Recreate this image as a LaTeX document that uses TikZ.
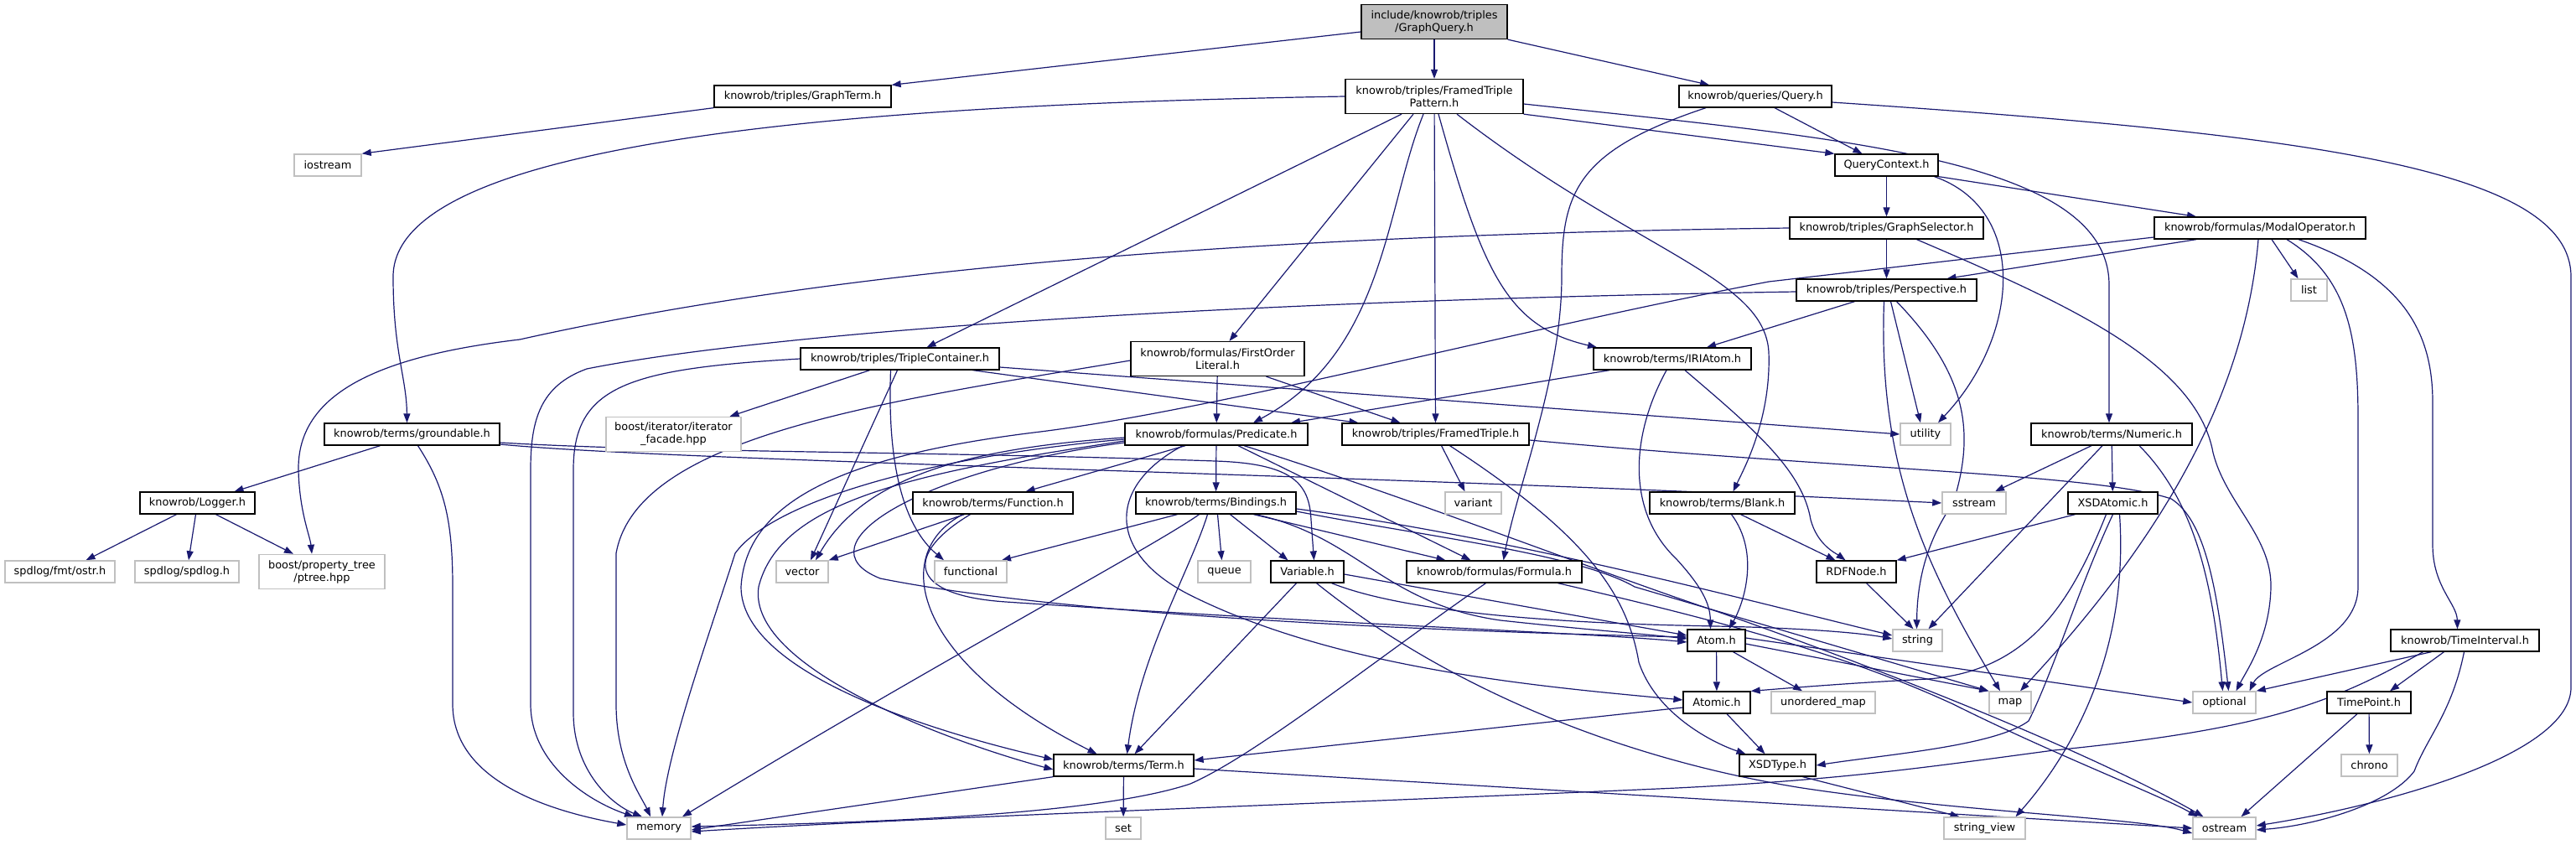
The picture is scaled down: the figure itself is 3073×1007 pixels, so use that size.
\documentclass[tikz,border=0pt]{standalone}
\usepackage{fontspec}
\setmainfont{DejaVu Sans}
\usetikzlibrary{arrows.meta}
\definecolor{edgec}{HTML}{191970}
\definecolor{grayb}{HTML}{C0C0C0}
\definecolor{rootf}{HTML}{BFBFBF}
\pgfdeclarelayer{bg}
\pgfsetlayers{bg,main}
\tikzset{
 nbase/.style={inner sep=2pt, font=\fontsize{12.9pt}{15pt}\selectfont, align=center, minimum height=26pt, fill=white},
 nb/.style={nbase, draw=black, line width=1.3pt},
 ng/.style={nbase, draw=grayb, line width=1.5pt},
 nroot/.style={nbase, draw=black, line width=1.3pt, fill=rootf},
 two/.style={minimum height=41pt},
 edg/.style={draw=edgec, line width=1.2pt, -{Triangle[length=11pt,width=8pt]}},
}
\begin{document}
\begin{tikzpicture}[x=1pt,y=-1pt]
\useasboundingbox (0,0) rectangle (3073,1007);
% nodes
\node[nroot, two, minimum width=174pt] (root) at (1711,26) {include/knowrob/triples\\/GraphQuery.h};
\node[nb, minimum width=211pt] (gterm) at (957.5,115) {knowrob/triples/GraphTerm.h};
\node[nb, two, minimum width=212pt] (ftp) at (1711,115) {knowrob/triples/FramedTriple\\Pattern.h};
\node[nb, minimum width=182pt] (query) at (2094,115) {knowrob/queries/Query.h};
\node[ng, minimum width=80pt] (iostream) at (391,197) {iostream};
\node[nb, minimum width=123pt] (qctx) at (2250.5,197) {QueryContext.h};
\node[nb, minimum width=231pt] (gsel) at (2250.5,272) {knowrob/triples/GraphSelector.h};
\node[nb, minimum width=252pt] (modal) at (2696,272) {knowrob/formulas/ModalOperator.h};
\node[nb, minimum width=215pt] (persp) at (2250.5,346) {knowrob/triples/Perspective.h};
\node[ng, minimum width=43pt] (list) at (2754.5,346) {list};
\node[nb, minimum width=237pt] (tc) at (1073.5,428) {knowrob/triples/TripleContainer.h};
\node[nb, two, minimum width=207pt] (fol) at (1452.5,428) {knowrob/formulas/FirstOrder\\Literal.h};
\node[nb, minimum width=188pt] (iri) at (1995,428) {knowrob/terms/IRIAtom.h};
\node[nb, minimum width=209pt] (ground) at (491.5,518) {knowrob/terms/groundable.h};
\node[ng, two, minimum width=161pt] (iterf) at (803.5,518) {boost/iterator/iterator\\\_facade.hpp};
\node[nb, minimum width=218pt] (pred) at (1451,518) {knowrob/formulas/Predicate.h};
\node[nb, minimum width=223pt] (ftriple) at (1712.5,518) {knowrob/triples/FramedTriple.h};
\node[ng, minimum width=60pt] (utility) at (2297,518) {utility};
\node[nb, minimum width=192pt] (numeric) at (2519,518) {knowrob/terms/Numeric.h};
\node[nb, minimum width=137pt] (logger) at (235.5,600) {knowrob/Logger.h};
\node[nb, minimum width=191pt] (function) at (1184.5,600) {knowrob/terms/Function.h};
\node[nb, minimum width=191pt] (bindings) at (1450.5,600) {knowrob/terms/Bindings.h};
\node[ng, minimum width=67pt] (variant) at (1757.5,600) {variant};
\node[nb, minimum width=173pt] (blank) at (2054.5,600) {knowrob/terms/Blank.h};
\node[ng, minimum width=76pt] (sstream) at (2355,600) {sstream};
\node[nb, minimum width=107pt] (xsdatomic) at (2520.5,600) {XSDAtomic.h};
\node[ng, minimum width=131pt] (fmtostr) at (71.5,682) {spdlog/fmt/ostr.h};
\node[ng, minimum width=124pt] (spdlog) at (223,682) {spdlog/spdlog.h};
\node[ng, two, minimum width=150pt] (ptree) at (384,682) {boost/property\_tree\\/ptree.hpp};
\node[ng, minimum width=62pt] (vector) at (957,682) {vector};
\node[ng, minimum width=86pt] (functional) at (1158,682) {functional};
\node[ng, minimum width=63pt] (queue) at (1460.5,682) {queue};
\node[nb, minimum width=87pt] (variable) at (1559.5,682) {Variable.h};
\node[nb, minimum width=209pt] (formula) at (1782.5,682) {knowrob/formulas/Formula.h};
\node[nb, minimum width=95pt] (rdfnode) at (2214.5,682) {RDFNode.h};
\node[nb, minimum width=69pt] (atom) at (2047.5,764) {Atom.h};
\node[ng, minimum width=59pt] (string) at (2287.5,764) {string};
\node[nb, minimum width=177pt] (timeint) at (2940.5,764) {knowrob/TimeInterval.h};
\node[nb, minimum width=80pt] (atomic) at (2048,838) {Atomic.h};
\node[ng, minimum width=124pt] (umap) at (2175,838) {unordered\_map};
\node[ng, minimum width=50pt] (map) at (2398,838) {map};
\node[ng, minimum width=75pt] (optional) at (2653.5,838) {optional};
\node[nb, minimum width=100pt] (timepoint) at (2826,838) {TimePoint.h};
\node[nb, minimum width=167pt] (term) at (1340.5,913) {knowrob/terms/Term.h};
\node[nb, minimum width=91pt] (xsdtype) at (2120.5,913) {XSDType.h};
\node[ng, minimum width=67pt] (chrono) at (2826.5,913) {chrono};
\node[ng, minimum width=76pt] (memory) at (786,988) {memory};
\node[ng, minimum width=42pt] (set) at (1340,988) {set};
\node[ng, minimum width=97pt] (stringview) at (2367.5,988) {string\_view};
\node[ng, minimum width=75pt] (ostream) at (2653.5,988) {ostream};
% edges
\begin{pgfonlayer}{bg}
% root
\draw[edg] ([yshift=-12pt]root.west) -- (gterm.north east);
\draw[edg] (root) -- (ftp);
\draw[edg] (root.south east) -- ([xshift=-55pt]query.north);
\draw[edg] (gterm.south west) -- (iostream.north east);
% FramedTriplePattern
\draw[edg] (ftp.west) .. controls (1000,125) and (469,170) .. (469,330) .. controls (469,420) and (485,450) .. ([xshift=-6pt]ground.north);
\draw[edg] ([xshift=-39pt]ftp.south) -- ([xshift=32pt]tc.north);
\draw[edg] ([xshift=-25pt]ftp.south) -- ([xshift=14pt]fol.north);
\draw[edg] ([xshift=-13pt]ftp.south) .. controls (1652,250) and (1652,420) .. ([xshift=44pt]pred.north);
\draw[edg] (ftp) -- (ftriple);
\draw[edg] ([xshift=5pt]ftp.south) .. controls (1770,330) and (1800,390) .. ([xshift=-90pt]iri.north);
\draw[edg] ([xshift=27pt]ftp.south) .. controls (1950,300) and (2105,330) .. (2110,420) .. controls (2113,500) and (2080,560) .. ([xshift=13pt]blank.north);
\draw[edg] (ftp.south east) -- (qctx.north west);
\draw[edg] ([yshift=-9pt]ftp.east) .. controls (2200,165) and (2516,190) .. (2516,340) -- ([xshift=-3pt]numeric.north);
% Query
\draw[edg] ([xshift=23pt]query.south) -- ([xshift=-29pt]qctx.north);
\draw[edg] ([xshift=-59pt]query.south) .. controls (1880,180) and (1863,230) .. (1863,330) .. controls (1863,450) and (1810,580) .. ([xshift=11pt]formula.north);
\draw[edg] ([yshift=-7pt]query.east) .. controls (2750,160) and (3067,200) .. (3067,330) -- (3067,820) .. controls (3067,900) and (2850,960) .. ([yshift=3pt]ostream.east);
% QueryContext
\draw[edg] (qctx) -- (gsel);
\draw[edg] (qctx.south east) -- ([xshift=-76pt]modal.north);
\draw[edg] ([xshift=57pt]qctx.south) .. controls (2420,250) and (2410,400) .. ([xshift=15pt]utility.north);
% GraphSelector
\draw[edg] (gsel) -- (persp);
\draw[edg] ([xshift=36pt]gsel.south) .. controls (2460,360) and (2620,430) .. (2640,540) .. controls (2655,600) and (2710,640) .. (2709,700) .. controls (2708,760) and (2680,800) .. ([xshift=14pt]optional.north);
\draw[edg] (gsel.west) .. controls (1500,280) and (1000,320) .. (620,405) .. controls (450,425) and (355,470) .. (356,560) .. controls (357,610) and (370,640) .. ([xshift=-12pt]ptree.north);
% ModalOperator
\draw[edg] ([xshift=-76pt]modal.south) -- ([xshift=72pt]persp.north);
\draw[edg] ([xshift=14pt]modal.south) -- ([xshift=-13pt]list.north);
\draw[edg] ([xshift=32pt]modal.south) .. controls (2800,330) and (2813,400) .. (2813,500) -- (2813,700) .. controls (2813,770) and (2700,790) .. ([xshift=30pt]optional.north);
\draw[edg] ([xshift=-2pt]modal.south) .. controls (2680,450) and (2600,620) .. ([xshift=12pt]map.north);
\draw[edg] ([xshift=46pt]modal.south) .. controls (2870,330) and (2902,400) .. (2902,480) -- (2902,650) .. controls (2902,700) and (2931,720) .. ([xshift=-9pt]timeint.north);
\draw[edg] ([yshift=-11pt]modal.west) -- (2110,336) .. controls (1800,395) and (1450,490) .. (1233,516) .. controls (1000,545) and (890,600) .. (884,700) .. controls (884,800) and (1100,870) .. ([yshift=7pt]term.west);
% Perspective
\draw[edg] ([xshift=-38pt]persp.south) -- ([xshift=41pt]iri.north);
\draw[edg] ([xshift=5pt]persp.south) -- ([xshift=-6pt]utility.north);
\draw[edg] ([xshift=12pt]persp.south) .. controls (2350,450) and (2355,520) .. (2330,600) .. controls (2295,650) and (2287,700) .. ([xshift=-1pt]string.north);
\draw[edg] ([xshift=-3pt]persp.south) .. controls (2240,560) and (2300,680) .. ([xshift=-12pt]map.north);
\draw[edg] ([yshift=-2pt]persp.west) .. controls (1400,360) and (900,400) .. (700,440) .. controls (645,460) and (633,500) .. (633,560) -- (633,840) .. controls (633,910) and (700,955) .. ([xshift=-30pt]memory.north);
% IRIAtom
\draw[edg] ([xshift=-75pt]iri.south) -- ([xshift=89pt]pred.north);
\draw[edg] ([xshift=-7pt]iri.south) .. controls (1945,520) and (1940,610) .. (2000,667) .. controls (2030,700) and (2040,720) .. ([xshift=-7pt]atom.north);
\draw[edg] ([xshift=15pt]iri.south) .. controls (2090,510) and (2150,560) .. (2160,620) .. controls (2168,650) and (2190,660) .. ([xshift=-13pt]rdfnode.north);
% TripleContainer
\draw[edg] ([xshift=-36pt]tc.south) -- ([xshift=67pt]iterf.north);
\draw[edg] ([xshift=-3pt]tc.south) -- ([xshift=10pt]vector.north);
\draw[edg] ([xshift=-11pt]tc.south) .. controls (1058,560) and (1080,630) .. ([xshift=-32pt]functional.north);
\draw[edg] ([xshift=87pt]tc.south) -- ([xshift=-92pt]ftriple.north);
\draw[edg] ([yshift=-10pt]tc.east) -- (utility.west);
\draw[edg] (tc.west) .. controls (750,440) and (684,460) .. (684,560) -- (684,850) .. controls (684,920) and (730,960) .. ([xshift=-20pt]memory.north);
% FirstOrderLiteral
\draw[edg] (fol) -- (pred);
\draw[edg] ([xshift=58pt]fol.south) -- ([xshift=-42pt]ftriple.north);
\draw[edg] ([yshift=-2pt]fol.west) .. controls (1050,480) and (760,520) .. (735,660) -- (735,840) .. controls (735,910) and (765,950) .. ([xshift=-10pt]memory.north);
% groundable
\draw[edg] ([xshift=-38pt]ground.south) -- ([xshift=44pt]logger.north);
\draw[edg] ([xshift=7pt]ground.south) .. controls (530,580) and (540,620) .. (540,700) -- (540,840) .. controls (540,925) and (640,965) .. ([yshift=4pt]memory.west);
\draw[edg] ([yshift=-10pt]ground.east) .. controls (800,540) and (1100,538) .. (1450,550) .. controls (1540,553) and (1562,575) .. (1564,620) -- ([xshift=8pt]variable.north);
\draw[edg] ([yshift=-12pt]ground.east) .. controls (800,550) and (1600,565) .. (sstream.west);
% Logger
\draw[edg] ([xshift=-25pt]logger.south) -- ([xshift=31pt]fmtostr.north);
\draw[edg] ([xshift=-2pt]logger.south) -- ([xshift=2pt]spdlog.north);
\draw[edg] ([xshift=22pt]logger.south) -- ([xshift=-34pt]ptree.north);
% Predicate
\draw[edg] ([xshift=-37pt]pred.south) -- ([xshift=39pt]function.north);
\draw[edg] (pred) -- (bindings);
\draw[edg] ([xshift=26pt]pred.south) -- ([xshift=-28pt]formula.north);
\draw[edg] ([yshift=-4pt]pred.west) .. controls (1150,535) and (1030,570) .. ([xshift=16pt]vector.north);
\draw[edg] ([yshift=-8pt]pred.west) .. controls (1080,565) and (930,600) .. (905,700) .. controls (890,800) and (1150,890) .. ([yshift=-5pt]term.west);
\draw[edg] ([xshift=-40pt]pred.south) .. controls (1320,580) and (1320,660) .. (1420,710) .. controls (1600,800) and (1850,820) .. ([yshift=3pt]atomic.west);
\draw[edg] ([yshift=-6pt]pred.west) .. controls (1100,545) and (920,600) .. (877,660) .. controls (845,760) and (795,900) .. ([xshift=4pt]memory.north);
\draw[edg] ([xshift=33pt]pred.south) .. controls (1700,600) and (1900,680) .. (2050,730) .. controls (2250,800) and (2500,900) .. ([xshift=-25pt]ostream.north);
\draw[edg] ([yshift=-10pt]pred.west) .. controls (1100,560) and (950,650) .. (1050,690) .. controls (1300,740) and (1800,755) .. ([yshift=4pt]atom.west);
% Bindings
\draw[edg] ([xshift=-46pt]bindings.south) -- ([xshift=37pt]functional.north);
\draw[edg] ([xshift=2pt]bindings.south) -- ([xshift=-3pt]queue.north);
\draw[edg] ([xshift=17pt]bindings.south) -- ([xshift=-23pt]variable.north);
\draw[edg] ([xshift=45pt]bindings.south) -- ([xshift=-58pt]formula.north);
\draw[edg] ([xshift=-10pt]bindings.south) .. controls (1420,680) and (1360,780) .. ([xshift=4pt]term.north);
\draw[edg] ([xshift=-20pt]bindings.south) .. controls (1380,650) and (1100,800) .. ([xshift=28pt]memory.north);
\draw[edg] ([xshift=47pt]bindings.south) .. controls (1620,640) and (1650,720) .. (1790,740) .. controls (1900,752) and (1960,756) .. ([yshift=2pt]atom.west);
\draw[edg] ([yshift=-7pt]bindings.east) .. controls (1800,640) and (2100,720) .. ([yshift=6pt]string.west);
\draw[edg] ([yshift=-10pt]bindings.east) .. controls (1700,640) and (1880,660) .. (1950,700) -- (map.north west);
% Function
\draw[edg] ([xshift=-34pt]function.south) -- (vector.north east);
\draw[edg] ([xshift=-36pt]function.south) .. controls (1060,660) and (1090,790) .. ([xshift=-32pt]term.north);
\draw[edg] ([xshift=-27pt]function.south) .. controls (1080,660) and (1080,710) .. (1200,718) .. controls (1600,745) and (1900,755) .. ([yshift=-2pt]atom.west);
% Variable
\draw[edg] ([xshift=-13pt]variable.south) -- ([xshift=13pt]term.north);
\draw[edg] ([xshift=11pt]variable.south) .. controls (1700,800) and (1900,900) .. (2150,940) .. controls (2350,970) and (2550,975) .. ([yshift=-6pt]ostream.west);
\draw[edg] ([yshift=-3pt]variable.east) -- ([yshift=6pt]atom.west);
\draw[edg] ([xshift=29pt]variable.south) .. controls (1700,740) and (1950,745) .. (2047,747) .. controls (2150,749) and (2220,755) .. ([yshift=2pt]string.west);
% Formula
\draw[edg] ([xshift=-10pt]formula.south) .. controls (1650,780) and (1500,900) .. (1420,935) .. controls (1300,975) and (1000,982) .. ([yshift=2pt]memory.east);
\draw[edg] ([xshift=76pt]formula.south) .. controls (2050,740) and (2200,780) .. (2330,840) .. controls (2450,900) and (2580,950) .. ([xshift=-32pt]ostream.north);
% Blank
\draw[edg] ([xshift=11pt]blank.south) .. controls (2100,660) and (2080,720) .. ([xshift=15pt]atom.north);
\draw[edg] ([xshift=22pt]blank.south) -- ([xshift=-25pt]rdfnode.north);
% Numeric
\draw[edg] ([xshift=-24pt]numeric.south) -- ([xshift=25pt]sstream.north);
\draw[edg] ([xshift=-11pt]numeric.south) -- ([xshift=13pt]string.north);
\draw[edg] (numeric) -- (xsdatomic);
\draw[edg] ([xshift=33pt]numeric.south) .. controls (2620,600) and (2640,700) .. ([xshift=-2pt]optional.north);
% XSDAtomic
\draw[edg] ([xshift=-45pt]xsdatomic.south) -- (rdfnode.north east);
\draw[edg] ([xshift=-8pt]xsdatomic.south) .. controls (2470,720) and (2420,800) .. (2300,810) .. controls (2200,815) and (2120,822) .. (atomic.north east);
\draw[edg] (xsdatomic.south) .. controls (2480,700) and (2450,800) .. (2420,860) .. controls (2380,890) and (2250,900) .. (xsdtype.east);
\draw[edg] ([xshift=8pt]xsdatomic.south) .. controls (2540,780) and (2470,900) .. ([xshift=37pt]stringview.north);
% RDFNode
\draw[edg] ([xshift=12pt]rdfnode.south) -- ([xshift=-5pt]string.north);
% Atom
\draw[edg] (atom) -- (atomic);
\draw[edg] ([xshift=20pt]atom.south) -- ([xshift=-25pt]umap.north);
\draw[edg] ([yshift=-4pt]atom.east) -- (map.north west);
\draw[edg] ([yshift=3pt]atom.east) -- (optional.west);
% Atomic
\draw[edg] ([yshift=-6pt]atomic.west) -- ([yshift=6pt]term.east);
\draw[edg] ([xshift=12pt]atomic.south) -- ([xshift=-15pt]xsdtype.north);
% Term
\draw[edg] (term.south west) -- ([yshift=-2pt]memory.east);
\draw[edg] (term) -- (set);
\draw[edg] ([yshift=-4pt]term.east) -- (ostream.west);
% XSDType
\draw[edg] ([xshift=30pt]xsdtype.south) -- ([xshift=-30pt]stringview.north);
% TimeInterval
\draw[edg] ([xshift=-40pt]timeint.south) -- (optional.north east);
\draw[edg] ([xshift=-25pt]timeint.south) -- ([xshift=25pt]timepoint.north);
\draw[edg] ([xshift=-50pt]timeint.south) .. controls (2780,840) and (2700,870) .. (2450,895) .. controls (2300,915) and (2200,930) .. (2000,940) .. controls (1600,958) and (1100,975) .. ([yshift=-4pt]memory.east);
\draw[edg] ([xshift=-1pt]timeint.south) .. controls (2925,850) and (2895,880) .. (2880,920) .. controls (2850,960) and (2760,985) .. ([yshift=-2pt]ostream.east);
% TimePoint
\draw[edg] (timepoint) -- (chrono);
\draw[edg] ([xshift=-14pt]timepoint.south) -- ([xshift=20pt]ostream.north);
% FramedTriple
\draw[edg] ([xshift=7pt]ftriple.south) -- ([xshift=-10pt]variant.north);
\draw[edg] ([xshift=17pt]ftriple.south) .. controls (1880,630) and (1940,700) .. (1955,790) .. controls (1975,850) and (2040,885) .. ([xshift=-38pt]xsdtype.north);
\draw[edg] ([yshift=-7pt]ftriple.east) .. controls (2200,560) and (2500,565) .. (2590,595) .. controls (2630,620) and (2645,700) .. ([xshift=5pt]optional.north);
\end{pgfonlayer}
\end{tikzpicture}
\end{document}
